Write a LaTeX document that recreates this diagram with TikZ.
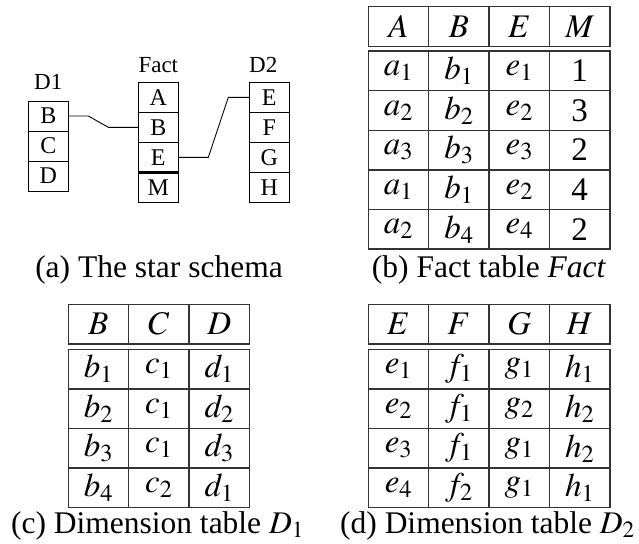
\documentclass[tikz,border=0pt]{standalone}
\usepackage{mathptmx}
\usepackage{fontspec}
\setmainfont{Liberation Serif}
\usetikzlibrary{positioning}
\tikzset{
  attrbox/.style={
    draw=black,
    line width=0.9pt,
    outer sep=0pt,
    inner sep=0pt,
    minimum width=40pt,
    minimum height=30pt,
    font=\fontsize{24}{28}\selectfont
  },
  schemalabel/.style={
    inner sep=0pt,
    font=\fontsize{23}{27}\selectfont
  },
  cellbox/.style={
    draw=black!80,
    line width=1.4pt,
    outer sep=0pt,
    inner sep=0pt,
    minimum width=60.4pt,
    minimum height=39.6pt,
    font=\fontsize{33}{38}\selectfont
  },
  captext/.style={
    anchor=base,
    inner sep=0pt,
    font=\fontsize{31.5}{38}\selectfont
  },
  joinline/.style={
    line width=0.9pt
  },
  keyline/.style={
    line width=3.5pt
  }
}

\begin{document}
\begin{tikzpicture}[x=1pt,y=-1pt]
  \useasboundingbox (0,0) rectangle (639,543);

  % (a) star schema
  \node[attrbox] (d1B) at (48.3,116) {B};
  \node[attrbox, below=0pt of d1B] (d1C) {C};
  \node[attrbox, below=0pt of d1C] (d1D) {D};
  \node[schemalabel, above=11pt of d1B] (d1name) {D1};

  \node[attrbox] (fA) at (158.3,97.3) {A};
  \node[attrbox, below=0pt of fA] (fB) {B};
  \node[attrbox, below=0pt of fB] (fE) {E};
  \node[attrbox, below=0pt of fE] (fM) {M};
  \node[schemalabel, above=9.3pt of fA] (fname) {Fact};

  \node[attrbox] (d2E) at (269.3,97.3) {E};
  \node[attrbox, below=0pt of d2E] (d2F) {F};
  \node[attrbox, below=0pt of d2F] (d2G) {G};
  \node[attrbox, below=0pt of d2G] (d2H) {H};
  \node[schemalabel, above=9.3pt of d2E, xshift=-6pt] (d2name) {D2};

  \draw[keyline] (fE.south west) -- (fE.south east);
  \draw[joinline] (d1B.east) -- ++(20,0) -- ([xshift=-30pt]fB.west) -- (fB.west);
  \draw[joinline] (fE.east) -- ++(30,0) -- ([xshift=-21pt]d2E.west) -- (d2E.west);

  % (b) fact table
  \foreach \h [count=\c] in {A,B,E,M}
    \node[cellbox] (fact-0-\c) at ({338.1+60.4*\c},26.5) {$\h$};
  \foreach \vals [count=\r] in {{$a_1$,$b_1$,$e_1$,1},{$a_2$,$b_2$,$e_2$,3},{$a_3$,$b_3$,$e_3$,2},{$a_1$,$b_1$,$e_2$,4},{$a_2$,$b_4$,$e_4$,2}}
    \foreach \v [count=\c] in \vals
      \node[cellbox] (fact-\r-\c) at ({338.1+60.4*\c},{31.2+39.6*\r}) {\v};

  % (c) dimension table D1
  \foreach \h [count=\c] in {B,C,D}
    \node[cellbox] (dimone-0-\c) at ({38.1+60.4*\c},324.1) {$\h$};
  \foreach \vals [count=\r] in {{$b_1$,$c_1$,$d_1$},{$b_2$,$c_1$,$d_2$},{$b_3$,$c_1$,$d_3$},{$b_4$,$c_2$,$d_1$}}
    \foreach \v [count=\c] in \vals
      \node[cellbox] (dimone-\r-\c) at ({38.1+60.4*\c},{329.5+39.6*\r}) {\v};

  % (d) dimension table D2
  \foreach \h [count=\c] in {E,F,G,H}
    \node[cellbox] (dimtwo-0-\c) at ({338.1+60.4*\c},324.1) {$\h$};
  \foreach \vals [count=\r] in {{$e_1$,$f_1$,$g_1$,$h_1$},{$e_2$,$f_1$,$g_2$,$h_2$},{$e_3$,$f_1$,$g_1$,$h_2$},{$e_4$,$f_2$,$g_1$,$h_1$}}
    \foreach \v [count=\c] in \vals
      \node[cellbox] (dimtwo-\r-\c) at ({338.1+60.4*\c},{329.5+39.6*\r}) {\v};

  \node[captext] (capa) at (159,277) {(a) The star schema};
  \node[captext] (capb) at (489,277) {(b) Fact table \textit{Fact}};
  \node[captext] (capc) at (157.5,533) {(c) Dimension table $D_1$};
  \node[captext] (capd) at (487.5,533) {(d) Dimension table $D_2$};
\end{tikzpicture}
\end{document}
